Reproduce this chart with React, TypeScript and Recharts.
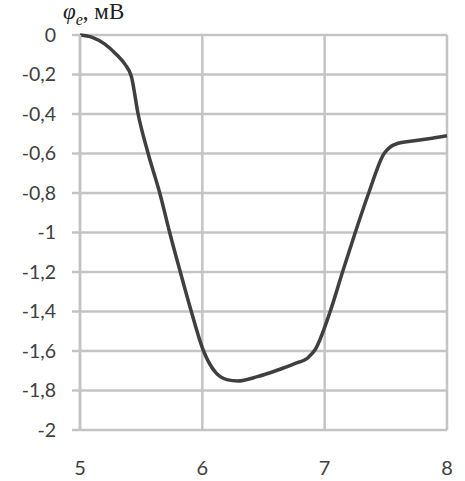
import React from 'react';
import { LineChart, Line, XAxis, YAxis, CartesianGrid } from 'recharts';

const xValues = [5, 5.1, 5.2, 5.3, 5.37, 5.42, 5.475, 5.557, 5.652, 5.733, 5.82, 5.91, 6.01, 6.11, 6.2, 6.29, 6.45, 6.6, 6.75, 6.87, 6.92, 7.045, 7.146, 7.25, 7.36, 7.486, 7.53, 7.6, 7.7, 7.85, 8];
const phiValues = [0, -0.012, -0.045, -0.1, -0.15, -0.21, -0.4, -0.6, -0.8, -1.0, -1.2, -1.4, -1.6, -1.71, -1.745, -1.752, -1.73, -1.7, -1.665, -1.63, -1.595, -1.4, -1.2, -1.0, -0.8, -0.6, -0.57, -0.548, -0.538, -0.525, -0.51];
const xTicks = [5, 6, 7, 8];
const yTicks = [0, -0.2, -0.4, -0.6, -0.8, -1, -1.2, -1.4, -1.6, -1.8, -2];

const data = xValues.map((x, i) => ({ x, phi: phiValues[i] }));

const fmt = (v: number) => String(v).replace('.', ',');

const XTick = (props: any) => {
  const { x, y, payload } = props;
  return (
    <text x={x} y={y + 37} textAnchor="middle" fill="#404040" fontFamily="Lato, 'Open Sans', sans-serif" fontSize={20}>
      {payload.value}
    </text>
  );
};

const YTick = (props: any) => {
  const { x, y, payload } = props;
  return (
    <text x={x} y={y} dy="0.35em" textAnchor="end" fill="#404040" fontFamily="Lato, 'Open Sans', sans-serif" fontSize={19.5}>
      {fmt(payload.value)}
    </text>
  );
};

export default function App() {
  return (
    <div style={{ position: 'absolute', left: 0, top: 0, width: 465, height: 481, background: '#fff' }}>
      <LineChart width={465} height={481} data={data} margin={{ top: 35, right: 18, bottom: 0, left: 0 }}>
        <CartesianGrid stroke="#c4c4c4" strokeWidth={2.5} />
        <XAxis
          dataKey="x"
          type="number"
          domain={[5, 8]}
          ticks={xTicks}
          axisLine={false}
          tickLine={false}
          height={51}
          tick={<XTick />}
          interval={0}
        />
        <YAxis
          type="number"
          domain={[-2, 0]}
          ticks={yTicks}
          width={80}
          axisLine={{ stroke: '#c4c4c4', strokeWidth: 2.5 }}
          tickLine={{ stroke: '#c4c4c4', strokeWidth: 2.5 }}
          tickSize={8}
          tickMargin={16}
          tick={<YTick />}
          interval={0}
        />
        <Line
          type="monotone"
          dataKey="phi"
          stroke="#3f3f3f"
          strokeWidth={3.5}
          dot={false}
          isAnimationActive={false}
        />
      </LineChart>
      <div
        style={{
          position: 'absolute',
          left: 63,
          top: 0,
          lineHeight: '24px',
          fontFamily: "'Liberation Serif', 'DejaVu Serif', serif",
          fontSize: 23,
          color: '#202020',
          whiteSpace: 'nowrap',
        }}
      >
        <i>φ</i>
        <sub style={{ fontSize: 16, fontStyle: 'italic', lineHeight: 0 }}>e</sub>, мВ
      </div>
    </div>
  );
}
